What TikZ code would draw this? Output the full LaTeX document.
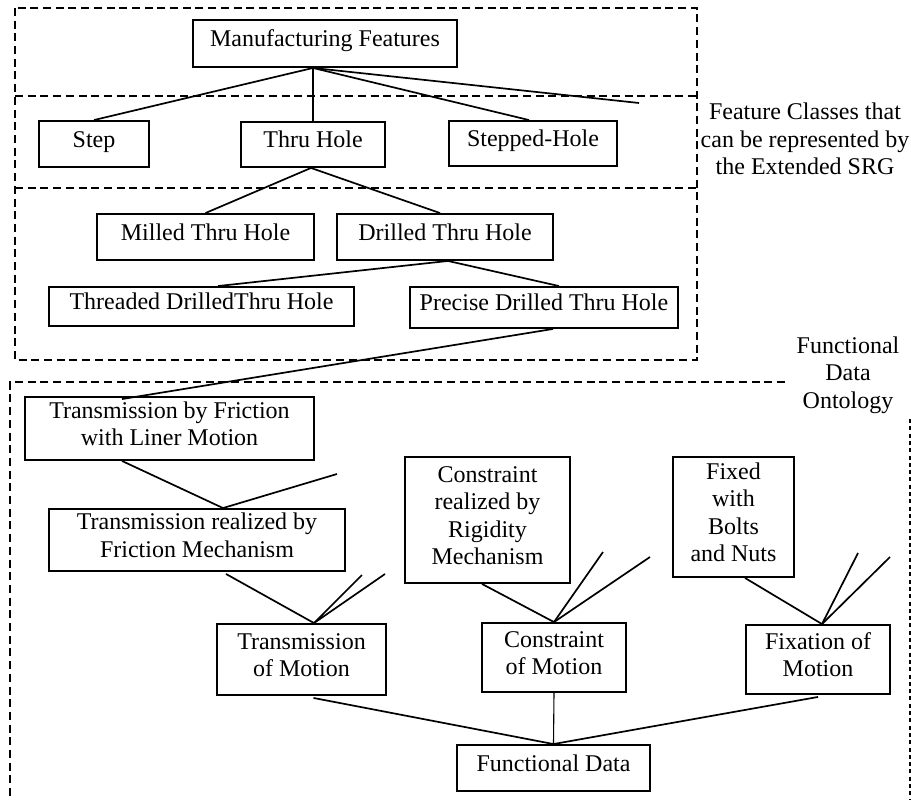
\documentclass[tikz,border=0pt]{standalone}
\usepackage{fontspec}
\setmainfont{Liberation Serif}
\newcommand\tx[1]{\raisebox{-4pt}[0pt][0pt]{\begin{tabular}[c]{@{}c@{}}#1\end{tabular}}}
\begin{document}
\begin{tikzpicture}[x=1pt,y=-1pt,
  bx/.style={draw, line width=1.9pt, inner sep=0pt, font=\fontsize{24}{27.5}\selectfont},
  lbl/.style={inner sep=0pt, align=center, font=\fontsize{24}{27.5}\selectfont},
  conn/.style={line width=1.7pt},
  thin/.style={line width=1.1pt},
  frame/.style={line width=1.7pt, dash pattern=on 8pt off 4.7pt},
  frameb/.style={line width=2.4pt, dash pattern=on 4pt off 3.3pt}]
\useasboundingbox (0,0) rectangle (911,800);
% frames
\draw[frame] (15,8) rectangle (697,360);
\draw[frame] (15,96) -- (697,96);
\draw[frame] (15,188) -- (697,188);
\draw[frame] (785,382) -- (10,382) -- (10,800);
\draw[frameb] (910,419) -- (910,800);
% labels
\node[lbl] (fc) at (805,139) {Feature Classes that\\can be represented by\\the Extended SRG};
\node[lbl] (fdo) at (848,375) {Functional\\Data\\Ontology};
% top boxes
\node[bx, minimum width=264pt, minimum height=47pt] (mf) at (325,43.5) {\tx{Manufacturing Features}};
\node[bx, minimum width=110pt, minimum height=46pt] (step) at (94,144) {\tx{Step}};
\node[bx, minimum width=144pt, minimum height=45pt] (thru) at (313,144.5) {\tx{Thru Hole}};
\node[bx, minimum width=168pt, minimum height=45pt] (stepped) at (533,143.5) {\tx{Stepped-Hole}};
\node[bx, minimum width=217pt, minimum height=46pt] (milled) at (205.5,237) {\tx{Milled Thru Hole}};
\node[bx, minimum width=216pt, minimum height=46pt] (drilled) at (445,237) {\tx{Drilled Thru Hole}};
\node[bx, minimum width=305pt, minimum height=39pt] (threaded) at (201.5,306.5) {\tx{Threaded DrilledThru Hole}};
\node[bx, minimum width=268pt, minimum height=41pt] (precise) at (544,307.5) {\tx{Precise Drilled Thru Hole}};
% bottom boxes
\node[bx, minimum width=289pt, minimum height=63pt] (tbf) at (169.5,428.5) {\tx{Transmission by Friction\\with Liner Motion}};
\node[bx, minimum width=296pt, minimum height=62pt] (trf) at (197,540) {\tx{Transmission realized by\\Friction Mechanism}};
\node[bx, minimum width=165pt, minimum height=126pt] (crr) at (487.5,520) {\tx{Constraint\\realized by\\Rigidity\\Mechanism}};
\node[bx, minimum width=121pt, minimum height=120pt] (fwb) at (733.5,517) {\tx{Fixed\\with\\Bolts\\and Nuts}};
\node[bx, minimum width=169pt, minimum height=71pt] (tm) at (301.5,659.5) {\tx{Transmission\\of Motion}};
\node[bx, minimum width=144pt, minimum height=69pt] (cm) at (554,657.5) {\tx{Constraint\\of Motion}};
\node[bx, minimum width=144pt, minimum height=69pt] (fm) at (818,659.5) {\tx{Fixation of\\Motion}};
\node[bx, minimum width=193pt, minimum height=46pt] (fd) at (553.5,768) {\tx{Functional Data}};
% free ends
\coordinate (mfx) at (639,103);
\coordinate (trfx) at (337,474);
\coordinate (tmx1) at (362,575);
\coordinate (tmx2) at (385,574);
\coordinate (cmx1) at (603,552);
\coordinate (cmx2) at (650,557);
\coordinate (fmx1) at (858,553);
\coordinate (fmx2) at (890,557);
% connectors top
\draw[conn] ([xshift=-12pt]mf.south) -- (step.north);
\draw[thin] ([xshift=-12pt]mf.south) -- (thru.north);
\draw[conn] ([xshift=-12pt]mf.south) -- ([xshift=-4pt]stepped.north);
\draw[conn] ([xshift=-12pt]mf.south) -- (mfx);
\draw[conn] ([xshift=-2pt]thru.south) -- (milled.north);
\draw[conn] ([xshift=-2pt]thru.south) -- ([xshift=-5pt]drilled.north);
\draw[conn] ([xshift=3pt]drilled.south) -- ([xshift=16.5pt]threaded.north);
\draw[conn] ([xshift=3pt]drilled.south) -- ([xshift=15pt]precise.north);
\draw[conn] ([xshift=9pt]precise.south) -- ([xshift=-47.5pt,yshift=-3pt]tbf.north);
% connectors bottom
\draw[conn] ([xshift=-47.5pt]tbf.south) -- ([xshift=26pt]trf.north);
\draw[conn] ([xshift=26pt]trf.north) -- (trfx);
\draw[conn] ([xshift=29pt,yshift=-2pt]trf.south) -- ([xshift=12.5pt]tm.north);
\draw[conn] ([xshift=12.5pt]tm.north) -- (tmx1);
\draw[conn] ([xshift=12.5pt]tm.north) -- (tmx2);
\draw[conn] ([xshift=-5.5pt]crr.south) -- (cm.north);
\draw[conn] (cm.north) -- (cmx1);
\draw[conn] (cm.north) -- (cmx2);
\draw[conn] ([xshift=11.5pt]fwb.south) -- ([xshift=4pt]fm.north);
\draw[conn] ([xshift=4pt]fm.north) -- (fmx1);
\draw[conn] ([xshift=4pt]fm.north) -- (fmx2);
\draw[conn] ([xshift=12pt,yshift=-2pt]tm.south) -- (fd.north);
\draw[thin] (cm.south) -- (fd.north);
\draw[conn] ([yshift=-2pt]fm.south) -- (fd.north);
\end{tikzpicture}
\end{document}
